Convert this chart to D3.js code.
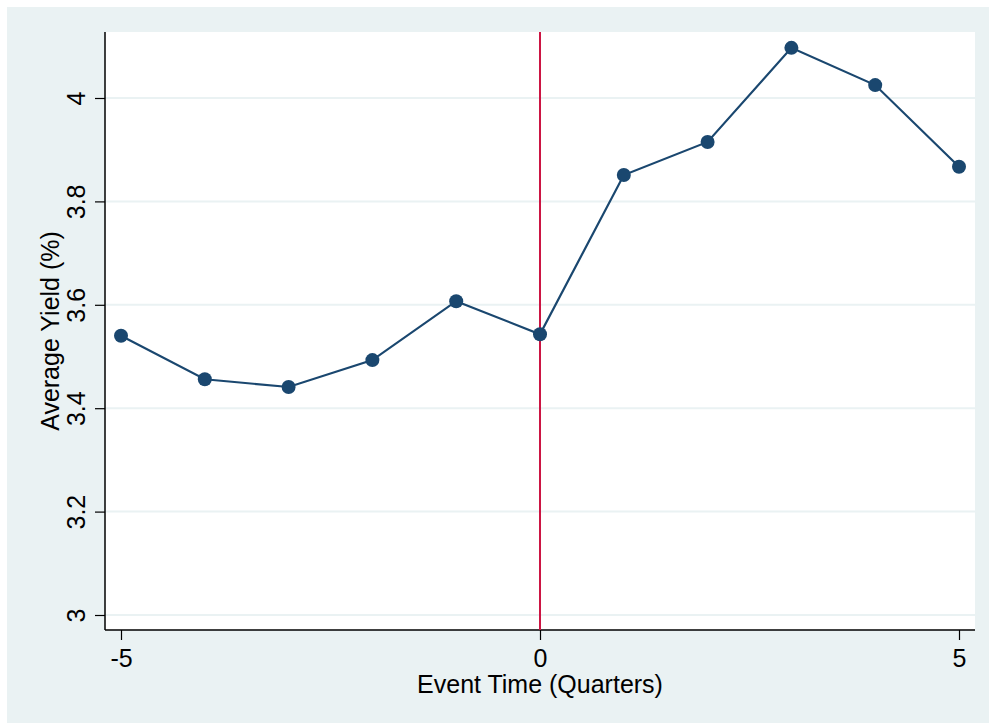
<!DOCTYPE html>
<html><head><meta charset="utf-8">
<script src="https://cdn.jsdelivr.net/npm/d3@7"></script>
<style>html,body{margin:0;padding:0;background:#fff;}svg{display:block;}</style>
</head><body>
<script>
const eventTime = [-5,-4,-3,-2,-1,0,1,2,3,4,5];
const avgYield = [3.540,3.456,3.441,3.493,3.607,3.543,3.851,3.915,4.097,4.025,3.867];
const xTicks = [-5,0,5];
const yTicks = [3,3.2,3.4,3.6,3.8,4];
const xTitle = "Event Time (Quarters)";
const yTitle = "Average Yield (%)";

const W=989,H=723;
const svg=d3.select("body").append("svg").attr("width",W).attr("height",H);
svg.append("rect").attr("x",7).attr("y",7).attr("width",W-7).attr("height",H-7).attr("fill","#eaf2f3");
const pl=105,pr=975,pt=32,pb=630;
svg.append("rect").attr("x",pl).attr("y",pt).attr("width",pr-pl).attr("height",pb-pt).attr("fill","#fff");

const x=d3.scaleLinear().domain([-5,5]).range([121,959]);
const y=d3.scaleLinear().domain([3,4]).range([615,98]);
const font="Liberation Sans, Arial, sans-serif";
const fs=25;

// gridlines
svg.append("g").selectAll("line").data(yTicks).join("line")
  .attr("x1",pl).attr("x2",pr).attr("y1",d=>y(d)).attr("y2",d=>y(d))
  .attr("stroke","#eaf2f3").attr("stroke-width",2);

// axes
const yAxis=svg.append("g").attr("transform",`translate(${pl},0)`)
  .call(d3.axisLeft(y).tickValues(yTicks).tickSize(10).tickSizeOuter(0).tickFormat(d3.format("~g")));
yAxis.select(".domain").attr("d",`M0,${pt}V${pb}`).attr("stroke","#000").attr("stroke-width",1.5);
yAxis.selectAll(".tick line").attr("stroke","#000").attr("stroke-width",1.2);
yAxis.selectAll(".tick text").attr("font-family",font).attr("font-size",fs).attr("fill","#000")
  .attr("x",0).attr("dy",0).attr("text-anchor","middle")
  .attr("transform","translate(-20,0) rotate(-90)");

const xAxis=svg.append("g").attr("transform",`translate(0,${pb})`)
  .call(d3.axisBottom(x).tickValues(xTicks).tickSize(10).tickSizeOuter(0).tickFormat(d3.format("d")));
xAxis.select(".domain").attr("d",`M${pl},0H${pr}`).attr("stroke","#000").attr("stroke-width",1.5);
xAxis.selectAll(".tick line").attr("stroke","#000").attr("stroke-width",1.2);
xAxis.selectAll(".tick text").attr("font-family",font).attr("font-size",fs).attr("fill","#000")
  .attr("y",37).attr("dy",0);
xAxis.selectAll(".tick text").text(d=>String(d));

svg.append("text").attr("x",540).attr("y",693).attr("text-anchor","middle")
  .attr("font-family",font).attr("font-size",fs).text(xTitle);
svg.append("text").attr("transform",`translate(59,${(pt+pb)/2}) rotate(-90)`).attr("text-anchor","middle")
  .attr("font-family",font).attr("font-size",fs).text(yTitle);

// red vertical line at 0
svg.append("line").attr("x1",x(0)).attr("x2",x(0)).attr("y1",pt).attr("y2",pb)
  .attr("stroke","#cc1543").attr("stroke-width",2);

const pts=eventTime.map((t,i)=>[t,avgYield[i]]);
svg.append("path").datum(pts).attr("fill","none").attr("stroke","#1a476f").attr("stroke-width",2.2)
  .attr("d",d3.line().x(d=>x(d[0])).y(d=>y(d[1])));
svg.append("g").selectAll("circle").data(pts).join("circle")
  .attr("cx",d=>x(d[0])).attr("cy",d=>y(d[1])).attr("r",7).attr("fill","#1a476f");
</script>
</body></html>
